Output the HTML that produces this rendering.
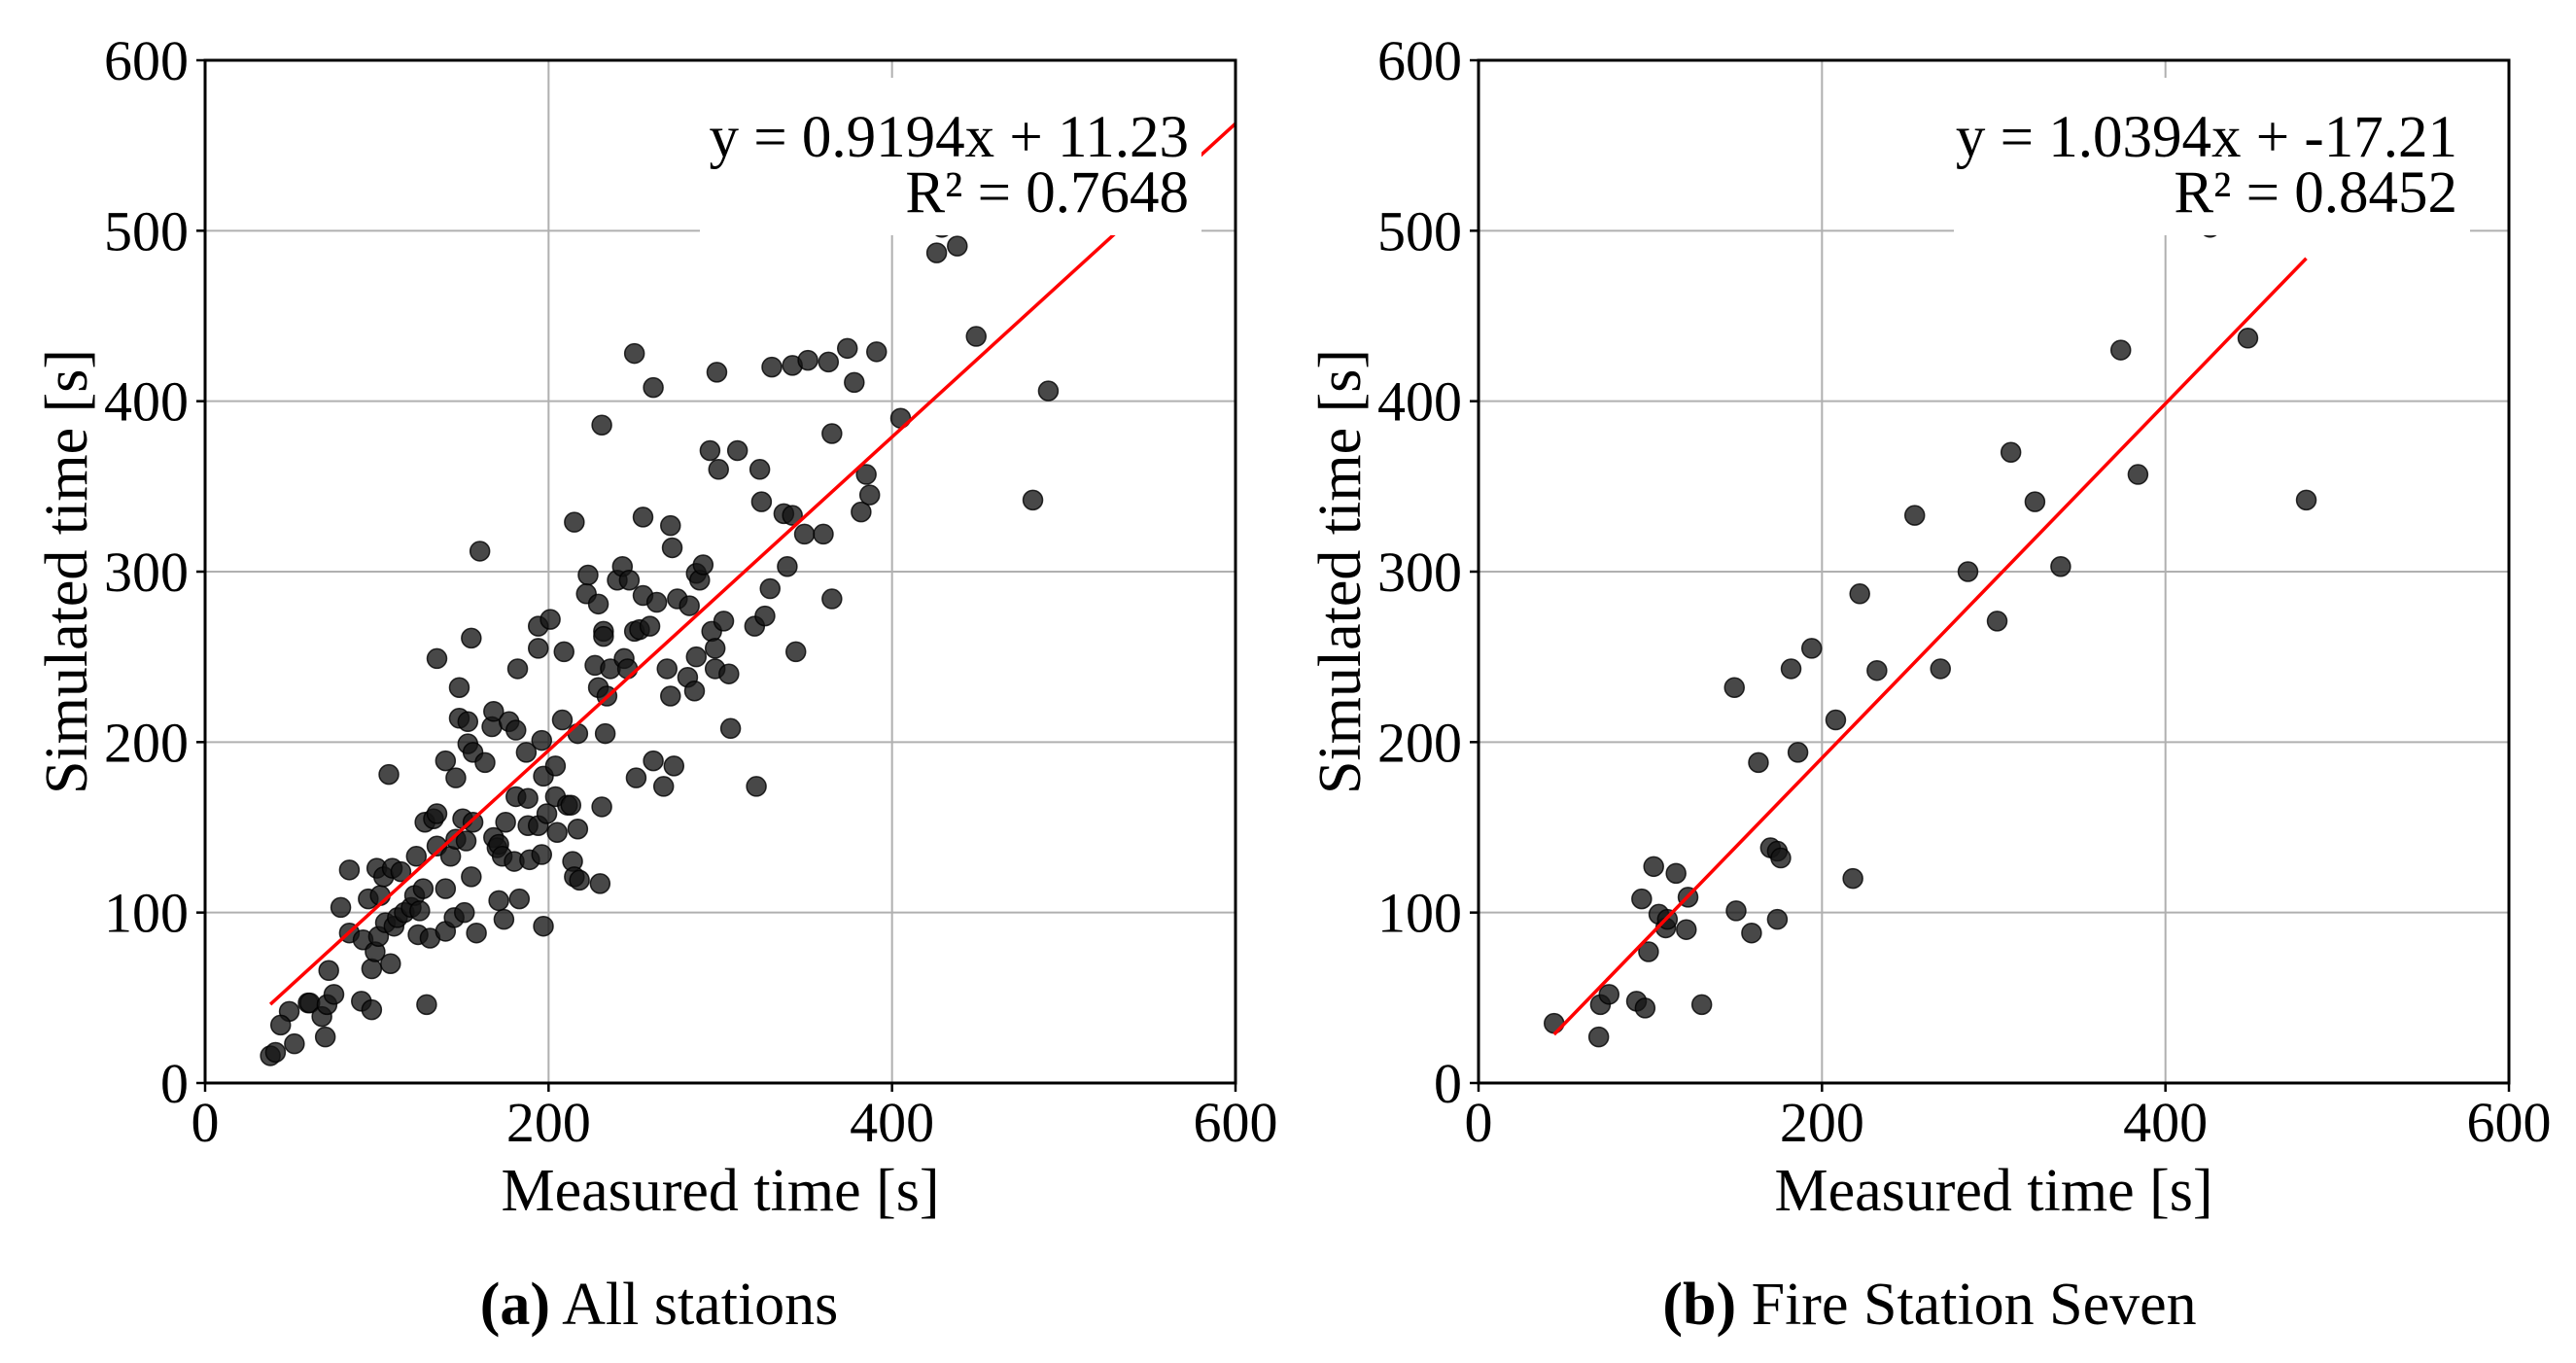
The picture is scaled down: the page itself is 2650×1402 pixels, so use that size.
<!DOCTYPE html>
<html><head><meta charset="utf-8">
<style>
html,body{margin:0;padding:0;background:#fff;}
svg{display:block;}
text{font-family:"Liberation Serif",serif;fill:#000;}
</style></head>
<body>
<svg id="chart" width="2650" height="1402" viewBox="0 0 2650 1402" xmlns="http://www.w3.org/2000/svg"></svg>
<script>
const tickValues = [0, 100, 200, 300, 400, 500, 600];
const xTickValues = [0, 200, 400, 600];
const allMeasured = [38,41,49,44,52,60,61,70,68,71,72,75,79,84,84,91,92,95,97,97,99,100,101,102,104,105,107,108,109,110,112,114,116,120,122,123,124,125,127,129,128,131,133,135,135,135,140,140,140,143,145,146,146,148,148,150,151,152,153,153,155,155,156,156,158,160,163,167,168,168,170,171,173,174,171,175,177,180,181,181,182,183,187,188,188,189,194,194,194,197,196,196,197,199,201,204,205,204,208,209,211,213,215,214,215,217,217,218,223,222,227,229,229,230,231,231,232,232,233,234,236,240,243,244,246,247,250,250,251,253,255,255,259,261,261,263,267,269,271,271,272,273,275,281,282,285,286,286,288,290,294,295,297,297,298,299,302,305,306,310,320,321,323,324,326,329,330,337,339,342,342,344,349,351,360,363,365,365,374,378,382,385,387,391,405,426,429,438,449,482,491];
const allSimulated = [16,18,42,34,23,47,47,27,39,46,66,52,103,125,88,48,84,108,43,67,77,126,86,110,121,94,181,70,126,92,97,124,100,103,110,133,87,101,114,46,153,85,155,158,249,139,114,189,89,133,97,179,143,232,214,155,100,142,212,199,261,121,194,153,88,312,188,209,218,144,138,140,133,96,107,153,212,130,207,168,243,108,194,151,167,131,268,255,151,92,134,201,180,158,272,186,147,168,213,253,163,163,329,130,121,205,149,119,298,287,245,232,281,117,386,162,265,262,205,227,243,295,303,249,243,295,428,265,179,266,332,286,268,408,189,282,174,243,227,327,314,186,284,238,280,230,250,299,295,304,371,265,243,255,417,360,271,240,208,371,268,174,360,341,274,290,420,334,303,421,333,253,322,424,322,423,381,284,431,411,335,357,345,429,390,487,502,491,438,342,406];
const stnMeasured = [44,70,71,76,92,95,97,99,102,105,109,110,115,121,122,130,149,150,159,163,170,174,174,176,182,186,194,208,218,222,232,254,269,285,302,310,324,339,374,384,426,448,482];
const stnSimulated = [35,27,46,52,48,108,44,77,127,99,91,96,123,90,109,46,232,101,88,188,138,136,96,132,243,194,255,213,120,287,242,333,243,300,271,370,341,303,430,357,502,437,342];
const fitA = [0.9194, 11.23, 38, 600];
const fitB = [1.0394, -17.21, 44, 482];
const legendA = ["y = 0.9194x + 11.23", "R² = 0.7648"];
const legendB = ["y = 1.0394x + -17.21", "R² = 0.8452"];

const NS = "http://www.w3.org/2000/svg";
const svg = document.getElementById('chart');
function mk(tag, attrs, parent) {
  const e = document.createElementNS(NS, tag);
  for (const k in attrs) e.setAttribute(k, attrs[k]);
  (parent || svg).appendChild(e);
  return e;
}
function panel(x0, key, xs, ys, fit, legend, caption, capBold, capX, legX0, legX1) {
  const y0 = 1114, W = 1060, H = 1052;
  const sx = v => x0 + v / 600 * W;
  const sy = v => y0 - v / 600 * H;
  const g = mk('g', {});
  
  
  tickValues.forEach(v => {
    if (v > 0 && v < 600) {
      const l = mk('line', {x1: x0, x2: x0 + W, y1: sy(v), y2: sy(v), stroke: '#b0b0b0', 'stroke-width': 2}, g);
      
      
    }
  });
  xTickValues.forEach(v => {
    if (v > 0 && v < 600) {
      const l = mk('line', {x1: sx(v), x2: sx(v), y1: y0 - H, y2: y0, stroke: '#b0b0b0', 'stroke-width': 2}, g);
      
      
    }
  });
  xs.forEach((v, i) => {
    const c = mk('circle', {cx: sx(v), cy: sy(ys[i]), r: 10, fill: 'rgba(20,20,20,0.78)', stroke: 'rgba(0,0,0,0.8)', 'stroke-width': 1.5}, g);
    
    
  });
  const fl = mk('line', {x1: sx(fit[2]), y1: sy(fit[0] * fit[2] + fit[1]), x2: sx(fit[3]), y2: sy(fit[0] * fit[3] + fit[1]), stroke: '#ff0000', 'stroke-width': 3.5}, g);
  
  
  const lb = mk('rect', {x: legX0, y: 80, width: legX1 - legX0, height: 162, fill: '#fff'}, g);
  
  
  const t1 = mk('text', {x: legX1 - 13, y: 161, 'font-size': 61, 'text-anchor': 'end'}, g);
  t1.textContent = legend[0];
  
  
  const t2 = mk('text', {x: legX1 - 13, y: 218, 'font-size': 61, 'text-anchor': 'end'}, g);
  t2.textContent = legend[1];
  
  
  const fr = mk('rect', {x: x0, y: y0 - H, width: W, height: H, fill: 'none', stroke: '#000', 'stroke-width': 3}, g);
  
  
  tickValues.forEach(v => {
    const tl = mk('line', {x1: x0 - 9, x2: x0, y1: sy(v), y2: sy(v), stroke: '#000', 'stroke-width': 2.5}, g);
    
    
    const tt = mk('text', {x: x0 - 17, y: sy(v) + 20, 'font-size': 58, 'text-anchor': 'end'}, g);
    tt.textContent = v;
    
    
  });
  xTickValues.forEach(v => {
    const tl = mk('line', {x1: sx(v), x2: sx(v), y1: y0, y2: y0 + 9, stroke: '#000', 'stroke-width': 2.5}, g);
    
    
    const tt = mk('text', {x: sx(v), y: 1174, 'font-size': 58, 'text-anchor': 'middle'}, g);
    tt.textContent = v;
    
    
  });
  const xl = mk('text', {x: x0 + W / 2, y: 1245, 'font-size': 62, 'text-anchor': 'middle'}, g);
  xl.textContent = 'Measured time [s]';
  
  
  const cy = y0 - H / 2;
  const yl = mk('text', {x: 0, y: 0, 'font-size': 62, 'text-anchor': 'middle', transform: `translate(${x0 - 122},${cy}) rotate(-90)`}, g);
  yl.textContent = 'Simulated time [s]';
  
  
  const cp = mk('text', {x: capX, y: 1362, 'font-size': 62, 'text-anchor': 'middle'}, g);
  
  
  const b = mk('tspan', {'font-weight': 'bold'}, cp);
  b.textContent = capBold;
  const r = mk('tspan', {}, cp);
  r.textContent = caption;
}
panel(211, 'all-stations', allMeasured, allSimulated, fitA, legendA, ' All stations', '(a)', 678, 720, 1236);
panel(1521, 'fire-station-seven', stnMeasured, stnSimulated, fitB, legendB, ' Fire Station Seven', '(b)', 1985, 2010, 2541);
</script>
</body></html>
